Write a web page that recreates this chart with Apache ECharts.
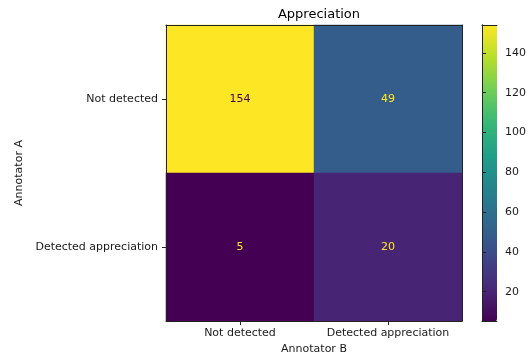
<!DOCTYPE html>
<html>
<head>
<meta charset="utf-8">
<script src="https://cdn.jsdelivr.net/npm/echarts@6/dist/echarts.min.js"></script>
<style>
  html, body { margin: 0; padding: 0; background: #fff; }
  #chart { width: 531px; height: 360px; }
</style>
</head>
<body>
<div id="chart"></div>
<script>
// Confusion matrix of two annotators for the "Appreciation" label
const categoriesB = ['Not detected', 'Detected appreciation'];   // columns (x)
const categoriesA = ['Not detected', 'Detected appreciation'];   // rows (y, top to bottom)
// counts[row][col]
const counts = [
  [154, 49],
  [5, 20]
];
const colorbarTicks = [20, 40, 60, 80, 100, 120, 140];

const viridis = ['#440154', '#482878', '#3e4989', '#31688e', '#26828e',
                 '#1f9e89', '#35b779', '#6ece58', '#b5de2b', '#fde725'];

const flat = counts.flat();
const vMin = Math.min(...flat);
const vMax = Math.max(...flat);
const mid = (vMin + vMax) / 2;

const cells = [];
counts.forEach((row, r) => row.forEach((v, c) => cells.push({
  value: [c, r, v],
  label: { color: v > mid ? viridis[0] : viridis[viridis.length - 1] }
})));

const FONT = 'DejaVu Sans';
const TEXT = '#1a1a1a';
const PLOT = { left: 166, top: 25, width: 296, height: 296.5 };
const CBAR = { left: 482, top: 25, width: 15, height: 296.5 };
const frame = { show: true, lineStyle: { color: '#222', width: 1 } };

const chart = echarts.init(document.getElementById('chart'), null, { renderer: 'canvas' });
chart.setOption({
  animation: false,
  backgroundColor: '#fff',
  textStyle: { fontFamily: FONT },
  title: {
    text: 'Appreciation',
    left: PLOT.left + PLOT.width / 2,
    top: 3,
    textAlign: 'center',
    textStyle: { fontFamily: FONT, fontSize: 13, fontWeight: 'normal', color: '#000' }
  },
  grid: [
    Object.assign({ containLabel: false }, PLOT),
    Object.assign({ containLabel: false }, CBAR)
  ],
  xAxis: [
    {
      type: 'category', gridIndex: 0, data: categoriesB, position: 'bottom', z: 5,
      name: 'Annotator B', nameLocation: 'middle', nameGap: 23,
      nameTextStyle: { fontFamily: FONT, fontSize: 11, color: TEXT },
      axisLine: frame,
      axisTick: { show: true, alignWithLabel: true, length: 4, lineStyle: { color: '#222' } },
      axisLabel: { fontFamily: FONT, fontSize: 11, color: TEXT, margin: 7, interval: 0, hideOverlap: false },
      splitLine: { show: false }
    },
    {
      type: 'category', gridIndex: 0, data: categoriesB, position: 'top', z: 5,
      axisLine: frame, axisTick: { show: false }, axisLabel: { show: false }
    },
    {
      type: 'value', gridIndex: 1, position: 'bottom', z: 5, min: 0, max: 1,
      axisLine: frame, axisTick: { show: false }, axisLabel: { show: false }, splitLine: { show: false }
    },
    {
      type: 'value', gridIndex: 1, position: 'top', z: 5, min: 0, max: 1,
      axisLine: frame, axisTick: { show: false }, axisLabel: { show: false }, splitLine: { show: false }
    }
  ],
  yAxis: [
    {
      type: 'category', gridIndex: 0, data: categoriesA, inverse: true, position: 'left', z: 5,
      name: 'Annotator A', nameLocation: 'middle', nameGap: 132, nameRotate: 90,
      nameTextStyle: { fontFamily: FONT, fontSize: 11, color: TEXT },
      axisLine: frame,
      axisTick: { show: true, alignWithLabel: true, length: 4, lineStyle: { color: '#222' } },
      axisLabel: { fontFamily: FONT, fontSize: 11, color: TEXT, margin: 8, interval: 0 },
      splitLine: { show: false }
    },
    {
      type: 'category', gridIndex: 0, data: categoriesA, inverse: true, position: 'right', z: 5,
      axisLine: frame, axisTick: { show: false }, axisLabel: { show: false }
    },
    {
      // colorbar scale
      type: 'value', gridIndex: 1, position: 'right', z: 5, min: vMin, max: vMax,
      axisLine: frame,
      axisTick: { show: true, length: 4, customValues: colorbarTicks, lineStyle: { color: '#222' } },
      axisLabel: { fontFamily: FONT, fontSize: 11, color: TEXT, margin: 8, customValues: colorbarTicks },
      splitLine: { show: false }
    },
    {
      type: 'value', gridIndex: 1, position: 'left', z: 5, min: vMin, max: vMax,
      axisLine: frame, axisTick: { show: false }, axisLabel: { show: false }, splitLine: { show: false }
    }
  ],
  visualMap: {
    type: 'continuous',
    min: vMin, max: vMax,
    seriesIndex: 0,
    orient: 'vertical',
    left: CBAR.left, top: CBAR.top,
    itemWidth: CBAR.width, itemHeight: CBAR.height,
    padding: 0,
    calculable: false,
    realtime: false,
    text: null,
    showLabel: false,
    inRange: { color: viridis },
    z: 3
  },
  series: [{
    type: 'heatmap',
    xAxisIndex: 0, yAxisIndex: 0,
    data: cells,
    label: {
      show: true,
      fontFamily: FONT,
      fontSize: 11,
      formatter: p => String(p.value[2])
    },
    itemStyle: { borderWidth: 0 },
    emphasis: { disabled: true }
  }]
});
</script>
</body>
</html>
